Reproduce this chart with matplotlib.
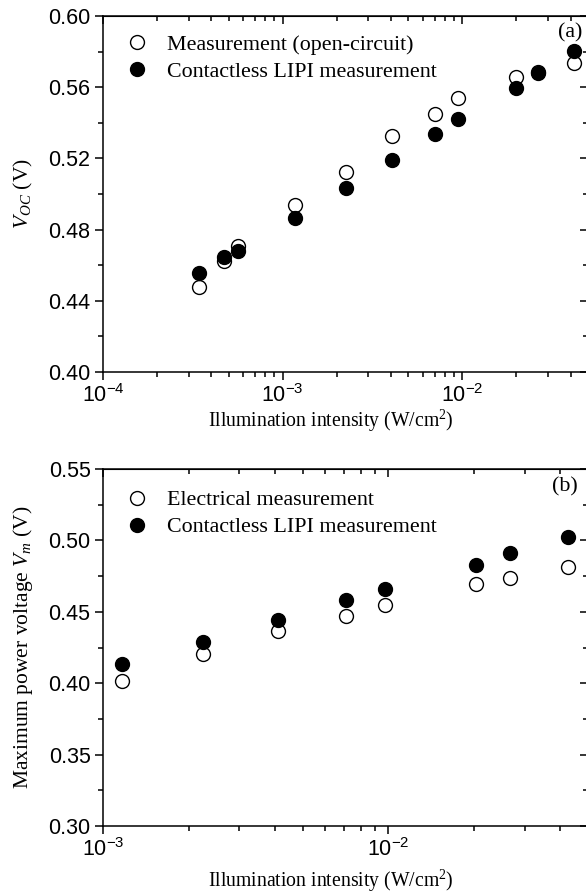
import numpy as np
import matplotlib
matplotlib.use('Agg')
import matplotlib.pyplot as plt
from matplotlib.ticker import MultipleLocator, LogLocator, FuncFormatter, NullFormatter

plt.rcParams['font.family'] = ['Liberation Sans', 'DejaVu Sans']
plt.rcParams['mathtext.fontset'] = 'custom'
plt.rcParams['mathtext.rm'] = 'Liberation Serif'
plt.rcParams['mathtext.it'] = 'Liberation Serif:italic'
plt.rcParams['mathtext.sf'] = 'Liberation Sans'

# (a) open-circuit voltage
intens_a = [3.43e-4, 4.70e-4, 5.65e-4, 1.17e-3, 2.24e-3, 4.05e-3, 7.02e-3, 9.5e-3, 1.98e-2, 2.62e-2, 4.19e-2]
voc_meas = [0.448, 0.4625, 0.471, 0.494, 0.5125, 0.5326, 0.545, 0.554, 0.566, 0.5687, 0.5734]
voc_lipi = [0.4554, 0.4648, 0.4682, 0.4867, 0.5032, 0.519, 0.5337, 0.542, 0.5597, 0.568, 0.5803]

# (b) maximum power voltage
intens_b = [1.17e-3, 2.24e-3, 4.10e-3, 7.10e-3, 9.7e-3, 2.02e-2, 2.66e-2, 4.25e-2]
vm_elec = [0.4017, 0.4205, 0.4368, 0.4473, 0.4548, 0.4695, 0.4735, 0.4814]
vm_lipi = [0.4134, 0.4291, 0.4443, 0.4583, 0.466, 0.4828, 0.491, 0.5022]

serif = 'Liberation Serif'
fs_tick = 15.5
fs_xlab = 14.2
fs_ylab = 15.5
fs_leg = 15.8

def dec_fmt(v, pos):
    return r'$\mathsf{10^{%d}}$' % int(round(np.log10(v)))

def style(ax, ylim, ymaj, xlim, xlab_y):
    ax.set_xscale('log')
    ax.set_xlim(*xlim)
    ax.set_ylim(*ylim)
    ax.xaxis.set_major_locator(LogLocator(base=10))
    ax.xaxis.set_major_formatter(FuncFormatter(dec_fmt))
    ax.xaxis.set_minor_locator(LogLocator(base=10, subs=np.arange(2, 10)))
    ax.xaxis.set_minor_formatter(NullFormatter())
    ax.yaxis.set_major_locator(MultipleLocator(ymaj))
    ax.yaxis.set_minor_locator(MultipleLocator(ymaj / 2))
    ax.yaxis.set_major_formatter(FuncFormatter(lambda v, p: '%.2f' % v))
    ax.tick_params(which='both', direction='out', width=1.1, labelsize=fs_tick, pad=3)
    ax.tick_params(which='major', length=6)
    ax.tick_params(which='minor', length=3.5)
    for s in ax.spines.values():
        s.set_linewidth(1.1)
    top = ax.secondary_xaxis('top')
    top.xaxis.set_major_locator(LogLocator(base=10))
    top.xaxis.set_minor_locator(LogLocator(base=10, subs=np.arange(2, 10)))
    top.tick_params(which='both', direction='in', labeltop=False, width=1.1)
    top.tick_params(which='major', length=6)
    top.tick_params(which='minor', length=3.5)
    right = ax.secondary_yaxis('right')
    right.yaxis.set_major_locator(MultipleLocator(ymaj))
    right.yaxis.set_minor_locator(MultipleLocator(ymaj / 2))
    right.tick_params(which='both', direction='in', labelright=False, width=1.1)
    right.tick_params(which='major', length=6)
    right.tick_params(which='minor', length=3.5)
    ax.set_xlabel('Illumination intensity (W/cm$^{\\mathrm{2}}$)', fontsize=fs_xlab, family=serif)
    ax.xaxis.set_label_coords(0.47, xlab_y)

fig = plt.figure(figsize=(5.86, 8.93), dpi=100)
ax1 = fig.add_axes([0.1758, 0.5834, 0.8276, 0.3987])
ax2 = fig.add_axes([0.1758, 0.0750, 0.8276, 0.3998])

ms = 10
leg_kw = dict(loc='upper left', frameon=False, prop={'family': serif, 'size': fs_leg},
              handletextpad=0.6, labelspacing=0.3, borderpad=0.3, handlelength=1.5)

ax1.plot(intens_a, voc_meas, 'o', ms=ms, mfc='white', mec='black', mew=1.0,
         label='Measurement (open-circuit)', zorder=3)
ax1.plot(intens_a, voc_lipi, 'o', ms=ms, mfc='black', mec='black', mew=1.0,
         label='Contactless LIPI measurement', zorder=4)
style(ax1, (0.40, 0.60), 0.04, (1e-4, 5e-2), -0.1)
ax1.set_ylabel('$V_{OC}$ (V)', fontsize=fs_ylab, family=serif)
ax1.yaxis.set_label_coords(-0.14, 0.5)
ax1.text(0.963, 0.952, '(a)', transform=ax1.transAxes, fontsize=fs_leg, family=serif,
         ha='center', va='center')
ax1.legend(bbox_to_anchor=(0.0, 0.998), **leg_kw)

ax2.plot(intens_b, vm_elec, 'o', ms=ms, mfc='white', mec='black', mew=1.0,
         label='Electrical measurement', zorder=3)
ax2.plot(intens_b, vm_lipi, 'o', ms=ms, mfc='black', mec='black', mew=1.0,
         label='Contactless LIPI measurement', zorder=4)
style(ax2, (0.30, 0.55), 0.05, (1e-3, 5e-2), -0.118)
ax2.set_ylabel('Maximum power voltage $V_m$ (V)', fontsize=fs_ylab, family=serif)
ax2.yaxis.set_label_coords(-0.14, 0.5)
ax2.text(0.953, 0.95, '(b)', transform=ax2.transAxes, fontsize=fs_leg, family=serif,
         ha='center', va='center')
ax2.legend(bbox_to_anchor=(0.0, 0.99), **leg_kw)

fig.savefig('out.png', dpi=100)
